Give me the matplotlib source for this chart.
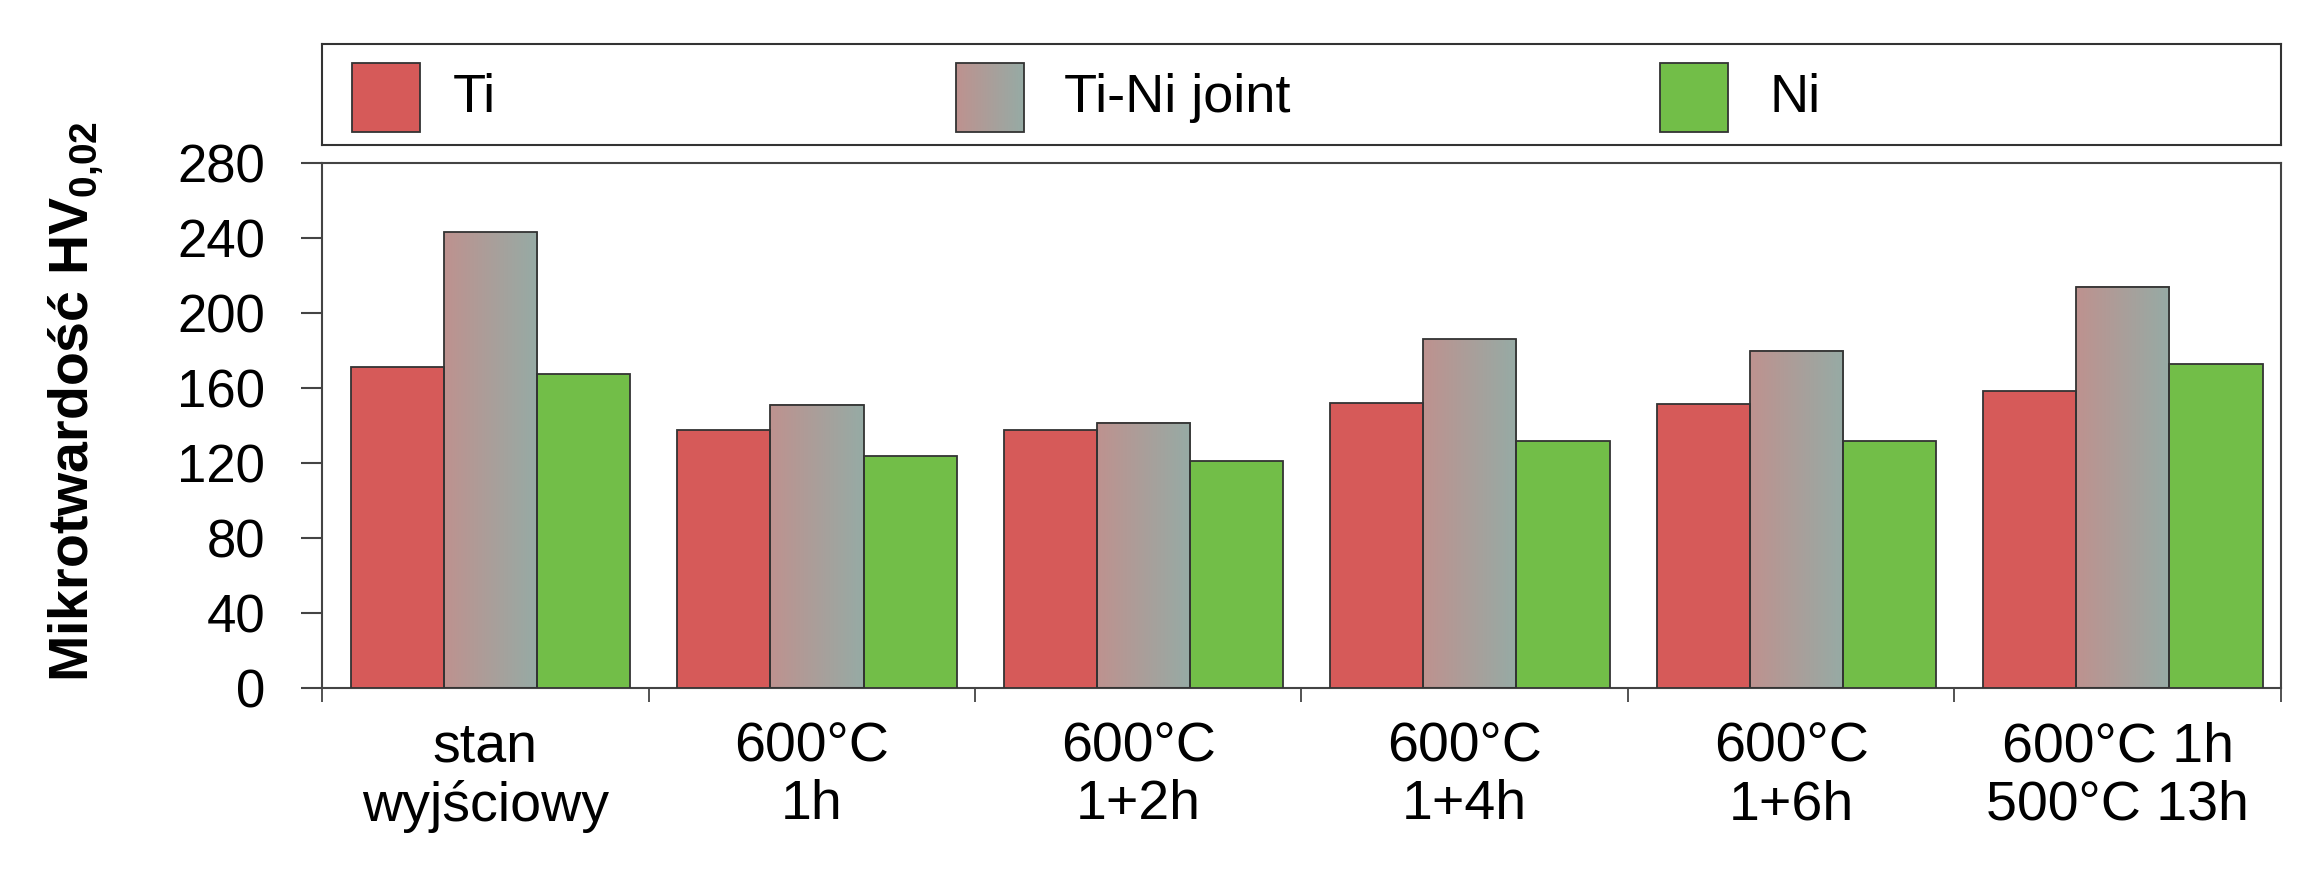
import numpy as np
import matplotlib.pyplot as plt
from matplotlib.colors import LinearSegmentedColormap
from matplotlib.patches import Rectangle

plt.rcParams['font.family'] = ['Liberation Sans', 'DejaVu Sans']
plt.rcParams['mathtext.fontset'] = 'custom'
plt.rcParams['mathtext.rm'] = 'Liberation Sans'
plt.rcParams['mathtext.bf'] = 'Liberation Sans:bold'

# data
categories = ["stan\nwyjściowy", "600°C\n1h", "600°C\n1+2h",
              "600°C\n1+4h", "600°C\n1+6h", "600°C 1h\n500°C 13h"]
series_names = ["Ti", "Ti-Ni joint", "Ni"]
ti = [171, 137.5, 137.5, 152, 151.5, 158.5]
tini = [243, 151, 141.5, 186, 180, 214]
ni = [167.5, 124, 121, 132, 132, 173]
yticks = [0, 40, 80, 120, 160, 200, 240, 280]

red = "#D65A59"
green = "#72BE48"
grad = LinearSegmentedColormap.from_list("tini", ["#BE928F", "#96ABA5"])
edge = "#333333"
gradient = np.linspace(0, 1, 256).reshape(1, -1)

fig = plt.figure(figsize=(22.97, 8.84), dpi=100)
ax = fig.add_axes([0.1402, 0.2217, 0.8528, 0.5939])
lax = fig.add_axes([0.1402, 0.836, 0.8528, 0.114])

x = np.arange(len(categories))
w = 0.2855
off = 0.0875

ax.bar(x + off, ti, w, align='edge', color=red, edgecolor=edge, linewidth=1.3, zorder=3)
bars = ax.bar(x + off + w, tini, w, align='edge', color='none', edgecolor=edge,
              linewidth=1.3, zorder=4)
ax.bar(x + off + 2 * w, ni, w, align='edge', color=green, edgecolor=edge, linewidth=1.3, zorder=3)

# gradient fill for the joint bars
for b in bars:
    ax.imshow(gradient, cmap=grad, aspect='auto', interpolation='bilinear', zorder=2,
              extent=(b.get_x(), b.get_x() + b.get_width(), 0, b.get_height()))

ax.set_xlim(0, len(categories))
ax.set_ylim(0, 280)
ax.set_yticks(yticks)
ax.set_xticks(np.arange(len(categories) + 1))
ax.set_xticklabels([])
ax.set_xticks(x + 0.5, minor=True)
ax.set_xticklabels(categories, minor=True, fontsize=40, linespacing=1.15)
ax.tick_params(axis='x', which='major', length=10, width=1.3, color='#444444')
ax.tick_params(axis='x', which='minor', length=0, pad=24)
ax.tick_params(axis='y', length=15, width=1.5, color='#444444', labelsize=38, pad=26)
for s in ax.spines.values():
    s.set_color('#444444')
    s.set_linewidth(1.5)

ax.set_ylabel("Mikrotwardość HV$_{\\mathbf{0{,}02}}$", fontsize=40, fontweight='bold')
ax.yaxis.set_label_coords(-0.111, 0.545)

# legend drawn in its own box
lax.set_xlim(0, 1)
lax.set_ylim(0, 1)
lax.set_xticks([])
lax.set_yticks([])
for s in lax.spines.values():
    s.set_color('#333333')
    s.set_linewidth(1.5)
patch_x = [0.0153, 0.3236, 0.683]
text_x = [0.0669, 0.3788, 0.739]
pw, py, ph = 0.0347, 0.13, 0.68
for i, name in enumerate(series_names):
    if i == 1:
        lax.imshow(gradient, cmap=grad, aspect='auto', interpolation='bilinear',
                   extent=(patch_x[i], patch_x[i] + pw, py, py + ph))
        lax.add_patch(Rectangle((patch_x[i], py), pw, ph, facecolor='none', edgecolor=edge, linewidth=1.3))
    else:
        lax.add_patch(Rectangle((patch_x[i], py), pw, ph, facecolor=[red, None, green][i],
                                edgecolor=edge, linewidth=1.3))
    lax.text(text_x[i], 0.47, name, fontsize=39, va='center', ha='left')
lax.set_xlim(0, 1)
lax.set_ylim(0, 1)

fig.savefig("out.png", dpi=100)
